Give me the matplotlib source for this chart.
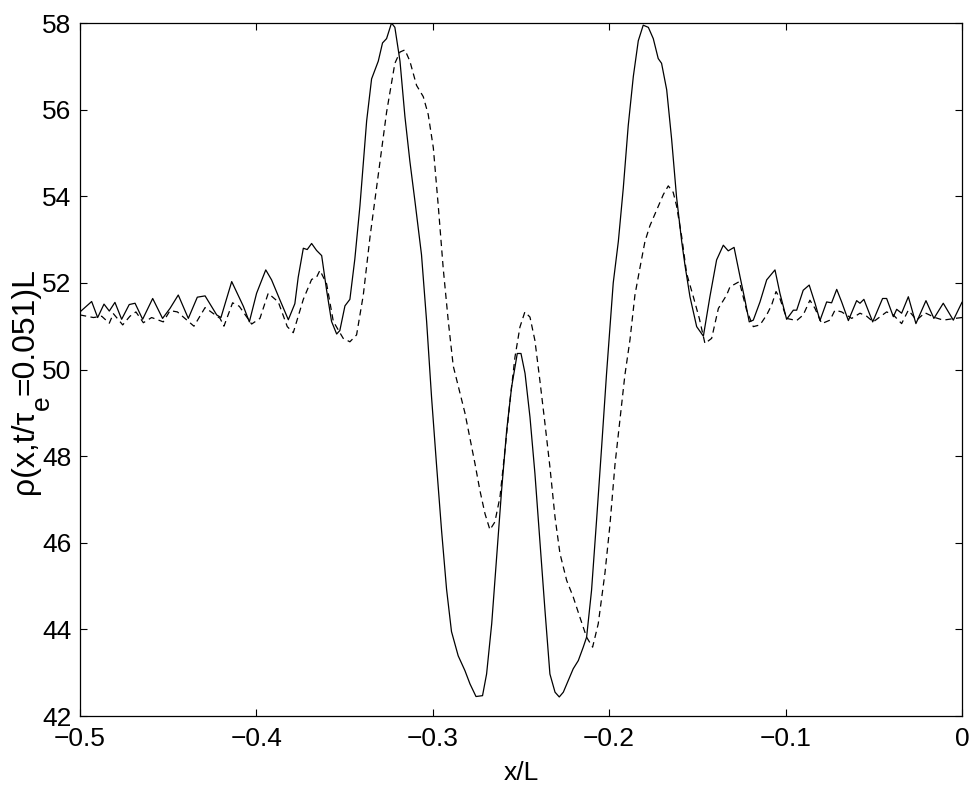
import matplotlib
matplotlib.use('Agg')
import matplotlib.pyplot as plt

# curva continua (solid)
x_solid = [-0.5, -0.4934, -0.490, -0.4864, -0.4834, -0.4802, -0.4764, -0.4721, -0.4688, -0.4645,
           -0.4588, -0.4532, -0.4490, -0.4443, -0.4386, -0.4335, -0.4291, -0.4225, -0.4201, -0.4140,
           -0.4112, -0.4074, -0.4040, -0.3999, -0.3947, -0.3914, -0.3866, -0.3819,
           -0.3782, -0.3763, -0.3734, -0.3712, -0.3687, -0.3659, -0.3630, -0.3602, -0.3574, -0.3545,
           -0.3527, -0.3498, -0.3470, -0.3442, -0.3413, -0.3375, -0.3347, -0.3309, -0.3285, -0.3262,
           -0.3234, -0.3215, -0.3186, -0.3158, -0.3130, -0.3101, -0.3064, -0.3035, -0.3007, -0.2979,
           -0.2950, -0.2922, -0.2894, -0.2856,
           -0.2818, -0.2789, -0.2755, -0.2718, -0.2695, -0.2666, -0.2638, -0.2610, -0.2581, -0.2553,
           -0.2534, -0.2521, -0.2500, -0.2477, -0.2449, -0.2421, -0.2393, -0.2364, -0.2336, -0.2307,
           -0.2283, -0.2260, -0.2232, -0.2204, -0.2175, -0.2147, -0.2128, -0.2100, -0.2071, -0.2043,
           -0.2015,
           -0.1977, -0.1948, -0.1920, -0.1892, -0.1863, -0.1835, -0.1807, -0.1778, -0.1750, -0.1722,
           -0.1703, -0.1674, -0.1646, -0.1618, -0.1589, -0.1570,
           -0.1542, -0.1504, -0.1466, -0.1429, -0.1391, -0.1353, -0.1325, -0.1292, -0.1258, -0.1230,
           -0.1206, -0.1183, -0.1145, -0.1107, -0.1060, -0.1032, -0.0994, -0.0956, -0.0937, -0.0900,
           -0.0866, -0.0833, -0.0805, -0.0767, -0.0739, -0.0710, -0.0682, -0.0644, -0.0597, -0.0578,
           -0.0556, -0.0506, -0.0450, -0.0427, -0.0389, -0.0370, -0.0342, -0.0304, -0.0261, -0.0204,
           -0.0159, -0.0106, -0.0049, 0.0]
rho_solid = [51.33, 51.57, 51.20, 51.51, 51.35, 51.55, 51.16, 51.50, 51.53, 51.16,
             51.64, 51.18, 51.41, 51.72, 51.18, 51.67, 51.70, 51.26, 51.20, 52.03,
             51.79, 51.46, 51.10, 51.76, 52.30, 52.07, 51.60, 51.15,
             51.52, 52.13, 52.80, 52.77, 52.91, 52.75, 52.63, 51.83, 51.11, 50.82,
             50.90, 51.47, 51.62, 52.55, 53.78, 55.74, 56.71, 57.12, 57.54, 57.64,
             58.00, 57.90, 57.12, 55.84, 54.81, 53.88, 52.65, 51.11, 49.36, 47.81,
             46.27, 44.93, 43.95, 43.39,
             43.05, 42.74, 42.45, 42.47, 42.97, 44.13, 45.67, 47.21, 48.60, 49.60,
             50.06, 50.37, 50.37, 49.91, 48.90, 47.60, 46.06, 44.44, 42.97, 42.55,
             42.44, 42.55, 42.82, 43.09, 43.28, 43.59, 43.82, 44.90, 46.55, 48.20,
             49.90,
             52.00, 52.96, 54.19, 55.63, 56.77, 57.59, 57.95, 57.90, 57.64, 57.18,
             57.07, 56.46, 55.32, 53.98, 52.96, 52.40,
             51.68, 50.99, 50.77, 51.68, 52.53, 52.87, 52.74, 52.82, 52.14, 51.60,
             51.10, 51.14, 51.56, 52.07, 52.30, 51.76, 51.16, 51.37, 51.37, 51.83,
             51.95, 51.53, 51.13, 51.56, 51.54, 51.85, 51.56, 51.13, 51.59, 51.53,
             51.62, 51.10, 51.64, 51.64, 51.22, 51.39, 51.30, 51.68, 51.06, 51.59,
             51.18, 51.53, 51.14, 51.55]

# curva tracejada (dashed)
x_dashed = [-0.5, -0.4924, -0.4877, -0.4834, -0.4811, -0.4758, -0.4717, -0.4683, -0.4641, -0.4594,
            -0.4528, -0.4490, -0.4448, -0.4354, -0.4291, -0.4206, -0.4184, -0.4135, -0.4097, -0.4027,
            -0.3980, -0.3933, -0.3876, -0.3825, -0.3791,
            -0.3734, -0.3687, -0.3659, -0.3640, -0.3602, -0.3564, -0.3508, -0.3470, -0.3432, -0.3394,
            -0.3356, -0.3309, -0.3262, -0.3215, -0.3186, -0.3158, -0.3130, -0.3092, -0.3054, -0.3026,
            -0.2997, -0.2969, -0.2941, -0.2912, -0.2884,
            -0.2818, -0.2789, -0.2761, -0.2733, -0.2704, -0.2676, -0.2648, -0.2619, -0.2591, -0.2562,
            -0.2534, -0.2506, -0.2478, -0.2449, -0.2421, -0.2393, -0.2364, -0.2336, -0.2307, -0.2279,
            -0.2241, -0.2204, -0.2166, -0.2128, -0.2094, -0.2062, -0.2024,
            -0.1996, -0.1967, -0.1939, -0.1911, -0.1882, -0.1854, -0.1826, -0.1797, -0.1769, -0.1731,
            -0.1693, -0.1665, -0.1637, -0.1618,
            -0.1589, -0.1561, -0.1523, -0.1489, -0.1457, -0.1419, -0.1381, -0.1334, -0.1315, -0.1262,
            -0.1221, -0.1183, -0.1145, -0.1107, -0.1079, -0.1054, -0.1032, -0.0994, -0.0937, -0.0900,
            -0.0862, -0.0833, -0.0795, -0.0748, -0.0720, -0.0682, -0.0625, -0.0578, -0.0540, -0.0503,
            -0.0427, -0.0389, -0.0342, -0.0304, -0.0257, -0.0210, -0.0153, -0.0106, -0.0040, 0.0]
rho_dashed = [51.26, 51.20, 51.23, 51.07, 51.29, 51.03, 51.23, 51.33, 51.08, 51.20,
              51.10, 51.36, 51.33, 51.00, 51.43, 51.18, 51.00, 51.54, 51.46, 51.05,
              51.18, 51.76, 51.56, 50.99, 50.85,
              51.62, 52.08, 52.13, 52.29, 51.98, 51.11, 50.72, 50.64, 50.80, 51.72,
              53.06, 54.50, 55.94, 57.07, 57.33, 57.38, 57.12, 56.56, 56.30, 55.89,
              55.12, 53.78, 52.34, 51.11, 50.08,
              49.00, 48.40, 47.83, 47.21, 46.67, 46.30, 46.48, 47.06, 48.13, 49.29,
              50.29, 50.98, 51.33, 51.21, 50.67, 49.75, 48.75, 47.75, 46.59, 45.75,
              45.13, 44.75, 44.28, 43.82, 43.59, 44.13, 45.30,
              46.40, 47.81, 48.84, 49.87, 50.69, 51.72, 52.34, 52.96, 53.32, 53.68,
              54.04, 54.24, 54.09, 53.78,
              53.07, 52.22, 51.68, 51.18, 50.60, 50.72, 51.41, 51.72, 51.91, 52.03,
              51.37, 50.99, 51.03, 51.26, 51.49, 51.80, 51.64, 51.18, 51.13, 51.26,
              51.60, 51.41, 51.06, 51.14, 51.37, 51.33, 51.18, 51.30, 51.23, 51.10,
              51.33, 51.26, 51.06, 51.37, 51.14, 51.31, 51.20, 51.14, 51.18, 51.20]

xticks = [-0.5, -0.4, -0.3, -0.2, -0.1, 0]
xticklabels = ['\u22120.5', '\u22120.4', '\u22120.3', '\u22120.2', '\u22120.1', '0']
yticks = [42, 44, 46, 48, 50, 52, 54, 56, 58]

plt.rcParams['font.family'] = ['Liberation Sans', 'DejaVu Sans']

W, H = 977, 791
fig = plt.figure(figsize=(W / 100, H / 100), dpi=100)
ax = fig.add_axes([0.0819, 0.0948, 0.9027, 0.8761])

ax.plot(x_solid, rho_solid, color='black', lw=0.9)
ax.plot(x_dashed, rho_dashed, color='black', lw=0.9, linestyle=(0, (5, 3.5)))

ax.set_xlim(-0.5, 0)
ax.set_ylim(42, 58)
ax.set_xticks(xticks)
ax.set_xticklabels(xticklabels)
ax.set_yticks(yticks)
ax.tick_params(direction='in', top=True, right=True, length=5, width=0.8,
               labelsize=19)
ax.tick_params(axis='y', pad=6)
ax.tick_params(axis='x', pad=8)
for s in ax.spines.values():
    s.set_linewidth(0.9)

ax.set_xlabel('x/L', fontsize=19, labelpad=7)

# rótulo do eixo y montado em partes (subscrito "e" grande, estilo MATLAB)
fig.canvas.draw()
r = fig.canvas.get_renderer()
x_base = 33 / W
opts = dict(rotation=90, rotation_mode='anchor', ha='left', va='baseline')
t1 = fig.text(x_base, (H - 494) / H, '\u03c1(x,t/\u03c4', fontsize=23, **opts)
y1 = t1.get_window_extent(r).y1
t2 = fig.text(x_base + 16 / W, y1 / H, 'e', fontsize=19, **opts)
y2 = t2.get_window_extent(r).y1
fig.text(x_base, y2 / H, '=0.051)L', fontsize=23, **opts)

plt.savefig('out.png', dpi=100)
